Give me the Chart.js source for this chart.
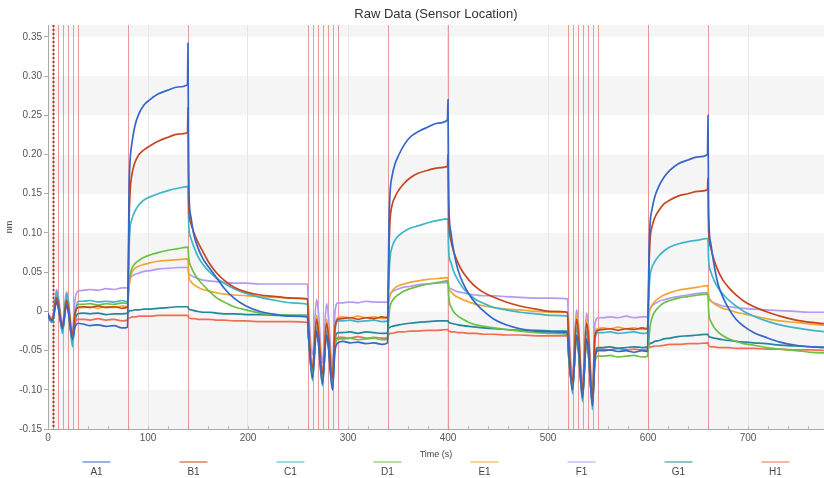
<!DOCTYPE html>
<html>
<head>
<meta charset="utf-8">
<title>Raw Data (Sensor Location)</title>
<script src="https://cdn.jsdelivr.net/npm/chart.js@4"></script>
<style>
  html, body { margin: 0; padding: 0; background: #fff; }
</style>
</head>
<body>
<canvas id="rawChart" width="824" height="478"></canvas>
<script>
// sample times (s), three cycles: regeneration, baseline, association, dissociation
const times = [0,
  0.5, 4.5, 8.5, 10, 14.5, 18.5, 20, 24.5, 27, 30,
  35, 42, 50, 58, 66, 74, 79.5,
  80.5, 81, 82, 84, 87, 91, 96, 102, 110, 120, 130, 139.5,
  140, 140.5,
  141, 143, 146, 150, 155, 161, 168, 176, 186, 198, 212, 228, 244, 259.5,
  260.5, 264.5, 268.5, 270, 274.5, 278.5, 280, 284.5, 287, 290,
  295, 302, 310, 318, 326, 334, 339.5,
  340.5, 341, 342, 344, 347, 351, 356, 362, 370, 380, 390, 399.5,
  400, 400.5,
  401, 403, 406, 410, 415, 421, 428, 436, 446, 458, 472, 488, 504, 519.5,
  520.5, 524.5, 528.5, 530, 534.5, 538.5, 540, 544.5, 547, 550,
  555, 562, 570, 578, 586, 594, 599.5,
  600.5, 601, 602, 604, 607, 611, 616, 622, 630, 640, 650, 659.5,
  660, 660.5,
  661, 663, 666, 670, 675, 681, 688, 696, 706, 718, 732, 748, 764, 779.5];

const a1 = [-0.003,
  -0.006, -0.012, 0.012, 0.006, -0.022, 0.008, 0.002, -0.035, -0.02, -0.015,
  -0.016, -0.018, -0.017, -0.019, -0.018, -0.021, -0.02,
  0.08, 0.15, 0.19, 0.215, 0.237, 0.252, 0.263, 0.27, 0.277, 0.282, 0.286, 0.289,
  0.342, 0.2,
  0.15, 0.12, 0.097, 0.081, 0.067, 0.056, 0.044, 0.03, 0.017, 0.007, 0.0, -0.004, -0.006, -0.007,
  -0.03, -0.085, -0.025, -0.035, -0.092, -0.03, -0.04, -0.1, -0.05, -0.04,
  -0.038, -0.04, -0.039, -0.041, -0.04, -0.042, -0.04,
  0.06, 0.11, 0.15, 0.172, 0.188, 0.2, 0.212, 0.222, 0.229, 0.235, 0.24, 0.244,
  0.27, 0.17,
  0.13, 0.1, 0.075, 0.053, 0.036, 0.022, 0.01, 0.0, -0.01, -0.017, -0.022, -0.025, -0.026, -0.027,
  -0.05, -0.1, -0.03, -0.04, -0.11, -0.035, -0.045, -0.12, -0.06, -0.05,
  -0.05, -0.049, -0.051, -0.05, -0.052, -0.05, -0.051,
  0.03, 0.07, 0.11, 0.13, 0.147, 0.16, 0.171, 0.18, 0.188, 0.193, 0.197, 0.2,
  0.25, 0.14,
  0.11, 0.085, 0.06, 0.035, 0.018, 0.003, -0.01, -0.019, -0.027, -0.033, -0.039, -0.043, -0.045, -0.046];

const b1 = [-0.002,
  -0.005, -0.01, 0.018, 0.012, -0.018, 0.014, 0.008, -0.03, -0.002, 0.005,
  0.006, 0.005, 0.007, 0.005, 0.006, 0.004, 0.006,
  0.06, 0.11, 0.15, 0.175, 0.19, 0.2, 0.206, 0.211, 0.217, 0.222, 0.226, 0.228,
  0.26, 0.16,
  0.13, 0.112, 0.1, 0.088, 0.076, 0.062, 0.05, 0.04, 0.031, 0.025, 0.021, 0.019, 0.017, 0.016,
  -0.015, -0.072, -0.01, -0.02, -0.08, -0.015, -0.025, -0.085, -0.02, -0.01,
  -0.009, -0.008, -0.01, -0.008, -0.009, -0.007, -0.008,
  0.04, 0.08, 0.115, 0.135, 0.146, 0.155, 0.163, 0.17, 0.176, 0.18, 0.183, 0.185,
  0.2, 0.13,
  0.11, 0.09, 0.075, 0.062, 0.05, 0.04, 0.031, 0.024, 0.018, 0.012, 0.007, 0.003, 0.0, -0.001,
  -0.03, -0.09, -0.01, -0.02, -0.1, -0.015, -0.025, -0.11, -0.03, -0.024,
  -0.023, -0.022, -0.024, -0.022, -0.023, -0.021, -0.022,
  0.02, 0.055, 0.09, 0.108, 0.12, 0.129, 0.137, 0.142, 0.147, 0.15, 0.153, 0.155,
  0.17, 0.11,
  0.095, 0.08, 0.066, 0.052, 0.04, 0.03, 0.021, 0.013, 0.006, 0.0, -0.006, -0.011, -0.014, -0.016];

const c1 = [-0.003,
  -0.007, -0.014, 0.025, 0.018, -0.028, 0.022, 0.015, -0.045, -0.005, 0.013,
  0.013, 0.014, 0.012, 0.013, 0.012, 0.014, 0.012,
  0.05, 0.08, 0.105, 0.118, 0.128, 0.136, 0.142, 0.146, 0.15, 0.154, 0.157, 0.159,
  0.159, 0.12,
  0.105, 0.093, 0.082, 0.07, 0.06, 0.051, 0.043, 0.036, 0.029, 0.023, 0.018, 0.014, 0.011, 0.009,
  -0.025, -0.088, -0.02, -0.03, -0.095, -0.025, -0.035, -0.1, -0.025, -0.012,
  -0.012, -0.011, -0.013, -0.012, -0.011, -0.013, -0.012,
  0.02, 0.045, 0.068, 0.082, 0.091, 0.097, 0.102, 0.106, 0.109, 0.113, 0.116, 0.118,
  0.118, 0.085,
  0.072, 0.062, 0.05, 0.04, 0.03, 0.022, 0.015, 0.01, 0.005, 0.002, -0.001, -0.003, -0.005, -0.006,
  -0.035, -0.105, -0.02, -0.03, -0.115, -0.025, -0.035, -0.125, -0.035, -0.027,
  -0.027, -0.026, -0.028, -0.027, -0.026, -0.028, -0.027,
  0.005, 0.025, 0.045, 0.056, 0.064, 0.071, 0.077, 0.082, 0.086, 0.089, 0.091, 0.093,
  0.093, 0.07,
  0.06, 0.05, 0.04, 0.03, 0.022, 0.014, 0.007, 0.0, -0.006, -0.012, -0.017, -0.021, -0.024, -0.026];

const d1 = [-0.003,
  -0.006, -0.012, 0.02, 0.014, -0.022, 0.016, 0.01, -0.035, -0.005, 0.009,
  0.009, 0.01, 0.008, 0.01, 0.009, 0.011, 0.01,
  0.025, 0.036, 0.046, 0.055, 0.061, 0.065, 0.069, 0.072, 0.075, 0.078, 0.08, 0.082,
  0.082, 0.072,
  0.065, 0.057, 0.049, 0.041, 0.034, 0.026, 0.018, 0.012, 0.006, 0.002, -0.002, -0.004, -0.005, -0.006,
  -0.03, -0.08, -0.02, -0.03, -0.086, -0.027, -0.037, -0.092, -0.045, -0.035,
  -0.035, -0.034, -0.036, -0.035, -0.034, -0.036, -0.035,
  -0.015, -0.005, 0.006, 0.013, 0.018, 0.022, 0.026, 0.029, 0.032, 0.035, 0.037, 0.039,
  0.039, 0.025,
  0.015, 0.006, -0.001, -0.006, -0.01, -0.014, -0.017, -0.019, -0.021, -0.023, -0.025, -0.027, -0.028, -0.029,
  -0.055, -0.095, -0.035, -0.045, -0.105, -0.04, -0.05, -0.112, -0.065, -0.057,
  -0.057, -0.056, -0.058, -0.057, -0.056, -0.058, -0.057,
  -0.045, -0.035, -0.02, -0.008, 0.0, 0.006, 0.011, 0.014, 0.017, 0.019, 0.021, 0.022,
  0.022, 0.005,
  -0.005, -0.013, -0.02, -0.026, -0.031, -0.035, -0.038, -0.041, -0.043, -0.046, -0.048, -0.05, -0.052, -0.053];

const e1 = [-0.003,
  -0.005, -0.01, 0.022, 0.015, -0.02, 0.018, 0.012, -0.032, -0.005, 0.005,
  0.005, 0.006, 0.004, 0.006, 0.005, 0.007, 0.006,
  0.02, 0.03, 0.04, 0.05, 0.055, 0.058, 0.06, 0.062, 0.064, 0.065, 0.066, 0.067,
  0.067, 0.05,
  0.043, 0.038, 0.034, 0.031, 0.028, 0.026, 0.024, 0.022, 0.021, 0.02, 0.019, 0.018, 0.017, 0.016,
  -0.012, -0.07, -0.005, -0.015, -0.078, -0.01, -0.02, -0.085, -0.02, -0.008,
  -0.007, -0.008, -0.006, -0.008, -0.007, -0.009, -0.008,
  0.005, 0.013, 0.02, 0.026, 0.03, 0.033, 0.035, 0.037, 0.039, 0.041, 0.042, 0.043,
  0.043, 0.032,
  0.028, 0.025, 0.021, 0.018, 0.015, 0.012, 0.009, 0.007, 0.005, 0.003, 0.002, 0.0, -0.001, -0.001,
  -0.028, -0.088, -0.005, -0.015, -0.098, -0.01, -0.02, -0.108, -0.028, -0.022,
  -0.021, -0.022, -0.02, -0.022, -0.021, -0.023, -0.022,
  -0.012, -0.005, 0.002, 0.008, 0.013, 0.017, 0.021, 0.024, 0.027, 0.029, 0.031, 0.033,
  0.033, 0.022,
  0.018, 0.014, 0.01, 0.007, 0.004, 0.002, -0.001, -0.003, -0.006, -0.009, -0.012, -0.014, -0.016, -0.018];

const f1 = [-0.002,
  -0.004, -0.008, 0.028, 0.022, -0.015, 0.025, 0.018, -0.025, 0.015, 0.026,
  0.027, 0.028, 0.027, 0.029, 0.028, 0.03, 0.03,
  0.036, 0.039, 0.042, 0.045, 0.047, 0.049, 0.051, 0.052, 0.054, 0.055, 0.056, 0.056,
  0.056, 0.05,
  0.048, 0.046, 0.044, 0.042, 0.04, 0.039, 0.038, 0.037, 0.036, 0.036, 0.035, 0.035, 0.035, 0.035,
  0.005, -0.055, 0.015, 0.005, -0.065, 0.01, 0.0, -0.07, 0.0, 0.011,
  0.011, 0.012, 0.011, 0.013, 0.012, 0.012, 0.012,
  0.016, 0.019, 0.022, 0.025, 0.027, 0.029, 0.031, 0.032, 0.034, 0.035, 0.036, 0.037,
  0.037, 0.033,
  0.031, 0.029, 0.027, 0.025, 0.024, 0.022, 0.021, 0.02, 0.02, 0.019, 0.018, 0.017, 0.017, 0.016,
  -0.01, -0.08, 0.002, -0.008, -0.09, -0.002, -0.012, -0.1, -0.015, -0.008,
  -0.008, -0.007, -0.008, -0.006, -0.008, -0.007, -0.007,
  -0.002, 0.001, 0.004, 0.007, 0.01, 0.013, 0.015, 0.017, 0.019, 0.021, 0.023, 0.024,
  0.024, 0.019,
  0.016, 0.013, 0.011, 0.009, 0.007, 0.006, 0.005, 0.004, 0.003, 0.002, 0.001, 0.0, -0.001, -0.001];

const g1 = [-0.003,
  -0.006, -0.01, 0.015, 0.01, -0.025, 0.01, 0.004, -0.038, -0.012, -0.003,
  -0.002, -0.003, -0.002, -0.004, -0.003, -0.003, -0.002,
  -0.001, 0.0, 0.001, 0.001, 0.002, 0.002, 0.003, 0.003, 0.004, 0.005, 0.006, 0.006,
  0.006, 0.004,
  0.003, 0.002, 0.001, 0.0, -0.001, -0.001, -0.002, -0.003, -0.003, -0.004, -0.004, -0.005, -0.005, -0.005,
  -0.03, -0.078, -0.02, -0.03, -0.085, -0.025, -0.035, -0.09, -0.035, -0.027,
  -0.027, -0.026, -0.028, -0.026, -0.027, -0.028, -0.027,
  -0.022, -0.021, -0.02, -0.019, -0.018, -0.017, -0.016, -0.015, -0.014, -0.013, -0.012, -0.012,
  -0.012, -0.013,
  -0.014, -0.015, -0.016, -0.017, -0.018, -0.019, -0.02, -0.021, -0.022, -0.023, -0.024, -0.024, -0.025, -0.025,
  -0.05, -0.098, -0.03, -0.04, -0.108, -0.035, -0.045, -0.117, -0.055, -0.046,
  -0.046, -0.045, -0.047, -0.046, -0.045, -0.046, -0.045,
  -0.043, -0.042, -0.041, -0.04, -0.038, -0.037, -0.035, -0.034, -0.032, -0.031, -0.03, -0.029,
  -0.029, -0.031,
  -0.032, -0.033, -0.034, -0.035, -0.036, -0.037, -0.038, -0.039, -0.04, -0.041, -0.043, -0.044, -0.045, -0.046];

const h1 = [-0.004,
  -0.007, -0.011, 0.013, 0.008, -0.02, 0.008, 0.002, -0.03, -0.014, -0.01,
  -0.01, -0.011, -0.009, -0.011, -0.01, -0.012, -0.011,
  -0.009, -0.008, -0.008, -0.007, -0.007, -0.006, -0.006, -0.006, -0.005, -0.005, -0.005, -0.005,
  -0.005, -0.007,
  -0.008, -0.009, -0.009, -0.01, -0.01, -0.01, -0.011, -0.011, -0.012, -0.012, -0.013, -0.013, -0.013, -0.014,
  -0.035, -0.075, -0.025, -0.035, -0.08, -0.03, -0.04, -0.085, -0.04, -0.033,
  -0.033, -0.034, -0.032, -0.034, -0.033, -0.034, -0.034,
  -0.03, -0.029, -0.028, -0.028, -0.027, -0.026, -0.026, -0.025, -0.025, -0.024, -0.024, -0.023,
  -0.023, -0.025,
  -0.025, -0.026, -0.026, -0.027, -0.027, -0.028, -0.028, -0.029, -0.029, -0.03, -0.03, -0.031, -0.031, -0.031,
  -0.055, -0.092, -0.035, -0.045, -0.1, -0.04, -0.05, -0.108, -0.058, -0.048,
  -0.048, -0.049, -0.047, -0.049, -0.048, -0.049, -0.048,
  -0.046, -0.046, -0.045, -0.045, -0.044, -0.044, -0.043, -0.042, -0.042, -0.041, -0.041, -0.04,
  -0.04, -0.043,
  -0.044, -0.045, -0.045, -0.046, -0.046, -0.046, -0.047, -0.047, -0.047, -0.048, -0.048, -0.049, -0.049, -0.05];

const sensorLabels = ["A1", "B1", "C1", "D1", "E1", "F1", "G1", "H1"];
const sensorColors = ["#3566c8", "#c8461e", "#3fb6c6", "#6cc045", "#f0a732", "#b59af0", "#22889a", "#f26d52"];
const sensorValues = [a1, b1, c1, d1, e1, f1, g1, h1];

// step boundaries (s); the first one is shown dotted
const startMarker = 5;
const stepTimes = [5, 10, 15, 20, 25, 30, 80, 140,
  260, 265, 270, 275, 280, 285, 290, 340, 400,
  520, 525, 530, 535, 540, 545, 550, 600, 660];

const yTickValues = [-0.15, -0.10, -0.05, 0, 0.05, 0.10, 0.15, 0.20, 0.25, 0.30, 0.35];
const xTickValues = [0, 20, 40, 60, 80, 100, 120, 140, 160, 180, 200, 220, 240, 260, 280, 300,
  320, 340, 360, 380, 400, 420, 440, 460, 480, 500, 520, 540, 560, 580, 600, 620, 640, 660,
  680, 700, 720, 740, 760];
const xLabelEvery = 100;
const yRange = [-0.15, 0.365];
const xRange = [0, 776];

// grey bands on every other y interval, starting from the bottom one
const bandsPlugin = {
  id: "bands",
  beforeDraw(chart) {
    const ctx = chart.ctx;
    const area = chart.chartArea;
    const y = chart.scales.y;
    ctx.save();
    ctx.fillStyle = "#ffffff";
    ctx.fillRect(0, 0, chart.width, chart.height);
    const edges = yTickValues.concat([y.max]);
    ctx.fillStyle = "#f5f5f5";
    for (let i = 0; i < edges.length - 1; i += 2) {
      const top = y.getPixelForValue(edges[i + 1]);
      const bottom = y.getPixelForValue(edges[i]);
      ctx.fillRect(area.left, top, area.right - area.left, bottom - top);
    }
    ctx.restore();
  }
};

// red vertical lines at each step change, small x ticks inside the plot
const stepLinesPlugin = {
  id: "stepLines",
  beforeDatasetsDraw(chart) {
    const ctx = chart.ctx;
    const area = chart.chartArea;
    const x = chart.scales.x;
    ctx.save();
    ctx.lineWidth = 1;
    ctx.strokeStyle = "#b8b8b8";
    xTickValues.forEach(function(t) {
      const px = Math.round(x.getPixelForValue(t)) + 0.5;
      ctx.beginPath();
      ctx.moveTo(px, area.bottom);
      ctx.lineTo(px, area.bottom - 3);
      ctx.stroke();
    });
    ctx.strokeStyle = "rgba(232, 120, 120, 0.75)";
    stepTimes.forEach(function(t) {
      const px = Math.round(x.getPixelForValue(t)) + 0.5;
      ctx.beginPath();
      ctx.moveTo(px, area.top);
      ctx.lineTo(px, area.bottom);
      ctx.stroke();
    });
    const mx = Math.round(x.getPixelForValue(startMarker)) + 0.5;
    ctx.strokeStyle = "#c43030";
    ctx.lineWidth = 2;
    ctx.setLineDash([2, 2]);
    ctx.beginPath();
    ctx.moveTo(mx, area.top);
    ctx.lineTo(mx, area.bottom);
    ctx.stroke();
    ctx.restore();
  }
};

// title over the plot and the legend spread across its width
const decorPlugin = {
  id: "decor",
  afterDraw(chart) {
    const ctx = chart.ctx;
    const area = chart.chartArea;
    const mid = (area.left + area.right) / 2;
    ctx.save();
    ctx.fillStyle = "#333";
    ctx.font = "13px 'Liberation Sans', Arial, sans-serif";
    ctx.textAlign = "center";
    ctx.textBaseline = "middle";
    ctx.fillText("Raw Data (Sensor Location)", mid, 14);

    const slot = (area.right - area.left) / sensorLabels.length;
    ctx.font = "10px 'Liberation Sans', Arial, sans-serif";
    sensorLabels.forEach(function(label, i) {
      const cx = area.left + slot * (i + 0.5);
      ctx.strokeStyle = sensorColors[i] + "80";
      ctx.lineWidth = 2;
      ctx.beginPath();
      ctx.moveTo(cx - 14, 462);
      ctx.lineTo(cx + 14, 462);
      ctx.stroke();
      ctx.fillStyle = "#444";
      ctx.fillText(label, cx, 472);
    });
    ctx.restore();
  }
};

const datasets = sensorLabels.map(function(label, i) {
  return {
    label: label,
    data: times.map((t, k) => ({ x: t, y: sensorValues[i][k] })),
    borderColor: sensorColors[i],
    backgroundColor: sensorColors[i],
    borderWidth: 1.7,
    pointRadius: 0,
    cubicInterpolationMode: "monotone",
    fill: false
  };
});

Chart.defaults.font.family = "'Liberation Sans', Arial, sans-serif";
Chart.defaults.color = "#555";

new Chart(document.getElementById("rawChart"), {
  type: "line",
  data: { datasets: datasets },
  options: {
    responsive: false,
    animation: false,
    devicePixelRatio: 1,
    layout: { padding: { top: 25, right: 0, bottom: 18, left: 4 } },
    plugins: {
      legend: { display: false },
      title: { display: false },
      tooltip: { enabled: false }
    },
    scales: {
      x: {
        type: "linear",
        min: xRange[0],
        max: xRange[1],
        border: { color: "#aaa" },
        grid: {
          color: c => (c.tick && c.tick.value % xLabelEvery === 0) ? "#e6e6e6" : "rgba(0,0,0,0)",
          drawTicks: false
        },
        afterBuildTicks: s => { s.ticks = xTickValues.map(v => ({ value: v })); },
        ticks: {
          autoSkip: false,
          maxRotation: 0,
          padding: 3,
          font: { size: 10 },
          callback: v => (v % xLabelEvery === 0 ? v : "")
        },
        title: { display: true, text: "Time (s)", font: { size: 9 }, color: "#444", padding: { top: 2, bottom: 0 } }
      },
      y: {
        min: yRange[0],
        max: yRange[1],
        border: { color: "#aaa" },
        grid: { color: "rgba(0,0,0,0)", tickColor: "#aaa", tickLength: 4 },
        afterBuildTicks: s => { s.ticks = yTickValues.map(v => ({ value: v })); },
        ticks: {
          padding: 2,
          font: { size: 10 },
          callback: v => (Math.abs(v) < 1e-9 ? "0" : v.toFixed(2))
        },
        title: { display: true, text: "nm", font: { size: 9 }, color: "#444", padding: { top: 0, bottom: 6 } },
        afterFit: s => { s.width = 44; }
      }
    }
  },
  plugins: [bandsPlugin, stepLinesPlugin, decorPlugin]
});
</script>
</body>
</html>
